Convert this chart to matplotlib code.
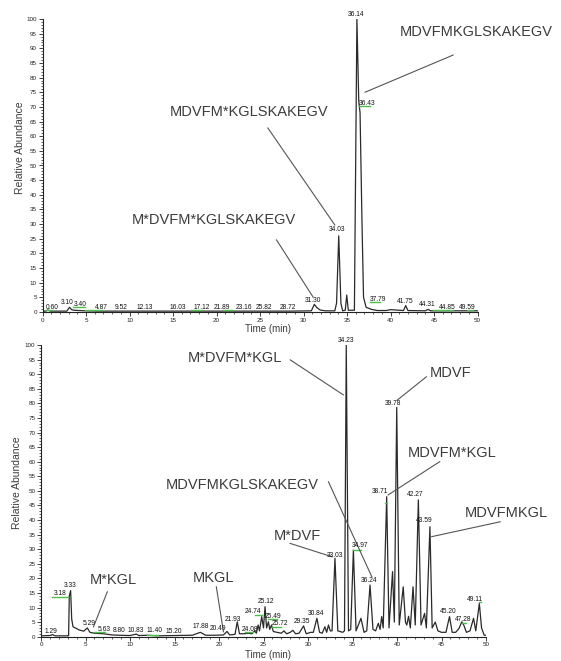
import matplotlib
matplotlib.use("Agg")
import matplotlib.pyplot as plt
from matplotlib.ticker import MultipleLocator

plt.rcParams['font.family'] = ['Liberation Sans', 'DejaVu Sans']

# ---------------- upper chromatogram ----------------
top_time = [0.0, 0.4, 0.6, 0.9, 2.8, 3.1, 3.35, 3.6, 4.2, 5.0, 6.5, 9.5, 12.1, 16.0,
            17.1, 21.9, 23.2, 25.8, 28.7, 30.9, 31.25, 31.5, 31.9, 32.5, 33.6, 33.8,
            34.05, 34.3, 34.5, 34.8, 34.97, 35.15, 35.85, 36.14, 36.35, 36.5, 36.72,
            36.9, 37.2, 37.8, 38.5, 39.5, 40.0, 41.5, 41.75, 42.0, 44.0, 44.31, 44.6,
            46.0, 50.0]
top_abund = [0.3, 0.3, 0.7, 0.3, 0.3, 1.6, 0.8, 0.6, 0.5, 0.4, 0.3, 0.3, 0.3, 0.3,
             0.3, 0.3, 0.3, 0.3, 0.3, 0.4, 2.6, 1.6, 0.7, 0.4, 0.4, 3.0,
             26.0, 3.0, 0.4, 0.6, 5.8, 0.6, 0.6, 100.0, 72.0, 68.0, 31.0,
             5.0, 1.6, 0.9, 0.5, 0.5, 0.8, 0.5, 2.2, 0.5, 0.4, 0.9, 0.4,
             0.4, 0.4]

top_rt_labels = ["0.60", "3.10", "3.40", "4.87", "9.52", "12.13", "16.03", "17.12",
                 "21.89", "23.16", "25.82", "28.72", "31.30", "34.03", "36.14",
                 "36.43", "37.79", "41.75", "44.31", "44.85", "49.59"]
top_peptides = ["MDVFMKGLSKAKEGV", "MDVFM*KGLSKAKEGV", "M*DVFM*KGLSKAKEGV"]

# ---------------- lower chromatogram ----------------
bot_time = [0.0, 1.0, 1.3, 1.6, 3.1, 3.18, 3.33, 3.45, 3.6, 4.3, 4.8, 5.2, 5.5,
            6.0, 7.0, 8.0, 8.8, 10.0, 10.7, 11.0, 12.0, 13.0, 15.0, 17.0, 17.9,
            18.5, 19.5, 20.5, 20.9, 21.2, 21.8, 22.05, 22.3, 22.8, 23.3, 23.7,
            24.0, 24.2, 24.4, 24.55, 24.8, 25.0, 25.17, 25.35, 25.55, 25.7, 25.9,
            26.1, 26.5, 27.0, 27.3, 27.6, 28.0, 28.3, 28.6, 29.0, 29.5, 29.8, 30.3,
            30.6, 31.0, 31.3, 31.6, 31.9, 32.1, 32.3, 32.5, 32.7, 33.03, 33.35,
            33.9, 34.1, 34.3, 34.55, 34.8, 35.1, 35.4, 35.95, 36.3, 36.6, 36.97,
            37.3, 37.6, 37.9, 38.1, 38.28, 38.45, 38.84, 39.1, 39.5, 39.7, 39.97,
            40.25, 40.7, 40.95, 41.1, 41.3, 41.5, 41.8, 42.05, 42.4, 42.7, 43.1,
            43.3, 43.7, 43.95, 44.3, 44.6, 45.0, 45.5, 45.9, 46.2, 46.6, 47.0,
            47.27, 47.5, 47.8, 48.2, 48.6, 48.85, 49.25, 49.5, 49.8, 50.0]
bot_abund = [0.3, 0.4, 0.7, 0.3, 0.3, 14.0, 15.8, 6.0, 3.4, 2.3, 1.9, 3.0, 1.5,
             1.2, 1.0, 0.6, 0.5, 0.4, 0.9, 0.4, 0.5, 0.3, 0.4, 0.5, 1.5,
             0.5, 0.5, 0.6, 1.8, 0.6, 0.8, 5.1, 1.0, 1.0, 1.2, 1.0,
             2.0, 1.2, 4.0, 2.0, 6.9, 3.0, 10.3, 3.0, 5.1, 2.5, 4.0,
             1.8, 1.5, 1.2, 2.0, 1.0, 1.5, 2.2, 1.0, 1.2, 3.7, 1.0, 1.5,
             1.5, 6.3, 1.5, 1.2, 3.4, 1.5, 4.0, 2.0, 2.0, 26.9, 2.0,
             1.5, 2.0, 100.0, 2.0, 2.5, 29.7, 2.0, 6.3, 1.5, 2.0, 17.7,
             2.5, 2.0, 4.6, 2.5, 6.9, 3.0, 48.0, 3.0, 22.3, 5.0, 78.6,
             4.0, 17.1, 5.0, 4.0, 7.0, 3.0, 17.1, 4.0, 46.9, 4.0, 8.0,
             3.0, 37.7, 3.0, 5.0, 2.0, 1.5, 1.5, 6.9, 1.5, 1.5, 3.0,
             5.1, 4.0, 1.5, 2.0, 6.3, 2.0, 11.4, 3.0, 0.5, 0.5]

bot_rt_labels = ["1.29", "3.18", "3.33", "5.29", "5.63", "8.80", "10.83", "11.40",
                 "15.20", "17.88", "20.49", "21.93", "24.08", "24.74", "25.12",
                 "25.49", "25.72", "29.35", "30.84", "33.03", "34.23", "34.97",
                 "36.24", "38.71", "39.78", "42.27", "43.59", "45.20", "47.28",
                 "49.11"]
bot_peptides = ["M*DVFM*KGL", "MDVF", "MDVFM*KGL", "MDVFMKGL", "MDVFMKGLSKAKEGV",
                "M*DVF", "MKGL", "M*KGL"]

# label anchors (minutes, %)
top_rt_xy = [(1.06, 1.7), (2.85, 3.4), (4.3, 2.7), (6.8, 1.7), (9.1, 1.7),
             (11.8, 1.7), (15.5, 1.7), (18.3, 1.7), (20.6, 1.7), (23.1, 1.7),
             (25.4, 1.7), (28.25, 1.7), (31.1, 3.8), (33.9, 28.0), (36.1, 101.7),
             (37.3, 71.0), (38.6, 4.1), (41.7, 3.5), (44.2, 2.4), (46.5, 1.5),
             (48.8, 1.7)]
bot_rt_xy = [(1.09, 1.7), (2.13, 14.9), (3.33, 17.4), (5.43, 4.6), (7.08, 2.5),
             (8.8, 2.1), (10.67, 2.1), (12.8, 2.0), (14.9, 1.7), (17.9, 3.4),
             (19.9, 2.9), (21.6, 6.0), (23.5, 2.5), (23.85, 8.6), (25.3, 12.0),
             (26.1, 6.9), (26.8, 4.6), (29.3, 5.1), (30.9, 8.0), (33.03, 28.0),
             (34.27, 101.5), (35.8, 31.1), (36.9, 19.2), (38.1, 49.7), (39.6, 80.0),
             (42.0, 48.9), (43.1, 39.8), (45.8, 8.6), (47.45, 6.0), (48.8, 12.9)]

# peptide text centre, leader start, leader end
top_pep_xy = [((49.9, 95.6), (47.2, 87.7), (37.07, 75.0)),
              ((23.8, 68.3), (25.9, 62.8), (33.6, 29.7)),
              ((19.65, 31.4), (26.9, 24.6), (31.1, 5.1))]
bot_pep_xy = [((21.8, 95.4), (28.0, 94.9), (33.97, 82.9)),
              ((46.07, 90.3), (43.3, 89.1), (40.03, 81.1)),
              ((46.2, 62.9), (44.8, 60.0), (39.0, 48.6)),
              ((52.3, 42.3), (51.6, 39.4), (43.9, 34.3)),
              ((22.6, 52.0), (32.3, 53.1), (37.16, 20.6)),
              ((28.8, 34.5), (27.98, 32.0), (32.7, 27.4)),
              ((19.4, 20.0), (19.7, 17.1), (20.5, 1.7)),
              ((8.1, 19.4), (7.45, 15.4), (5.9, 3.4))]

# retention-window marks (start, end, level)
top_marks = [(0.3, 1.2, 0.7), (3.5, 4.9, 1.8), (4.9, 6.8, 0.7), (17.1, 18.3, 0.7),
             (20.7, 21.9, 0.7), (36.4, 37.6, 70.3), (37.6, 38.8, 3.5),
             (44.9, 47.2, 0.7), (48.8, 49.5, 0.7)]
bot_marks = [(1.2, 3.07, 13.7), (5.9, 7.2, 1.7), (11.9, 13.2, 0.6), (22.9, 23.85, 1.7),
             (24.0, 24.8, 7.4), (25.5, 26.5, 6.0), (25.9, 27.0, 3.4),
             (35.1, 36.0, 29.7), (38.6, 38.9, 46.0), (47.3, 47.8, 4.6),
             (49.2, 49.4, 12.0)]

W, H = 561, 661
fig = plt.figure(figsize=(W / 100, H / 100), dpi=100)
ax_top = fig.add_axes([42.5 / W, 1 - 312 / H, 435 / W, 293 / H])
ax_bot = fig.add_axes([41 / W, 1 - 636.7 / H, 445 / W, 291.7 / H])

trace_col = "#2a2a2a"
text_col = "#3c3c3c"
green = "#4cbf4c"


def draw_panel(ax, t, a, rt_labels, rt_xy, peps, pep_xy, marks):
    ax.plot(t, a, color=trace_col, lw=0.9, solid_joinstyle="round")
    for x0, x1, lv in marks:
        ax.plot([x0, x1], [lv, lv], color=green, lw=1.0, clip_on=False)
    for lab, (x, y) in zip(rt_labels, rt_xy):
        ax.text(x, y, lab, fontsize=4.8, ha="center", va="center", color="#111111",
                clip_on=False)
    for pep, (txy, p0, p1) in zip(peps, pep_xy):
        ax.text(txy[0], txy[1], pep, fontsize=10.5, ha="center", va="center",
                color=text_col, clip_on=False)
        ax.plot([p0[0], p1[0]], [p0[1], p1[1]], color="#555555", lw=0.8,
                clip_on=False)

    ax.set_xlim(0, 50)
    ax.set_ylim(0, 100)
    for s in ("top", "right"):
        ax.spines[s].set_visible(False)
    for s in ("left", "bottom"):
        ax.spines[s].set_linewidth(0.8)
        ax.spines[s].set_color("#222222")
    ax.xaxis.set_major_locator(MultipleLocator(5))
    ax.xaxis.set_minor_locator(MultipleLocator(1))
    ax.yaxis.set_major_locator(MultipleLocator(5))
    ax.yaxis.set_minor_locator(MultipleLocator(1))
    ax.tick_params(which="major", length=3, width=0.6, labelsize=4.5, pad=1,
                   colors="#222222")
    ax.tick_params(which="minor", length=1.6, width=0.5, colors="#222222")


draw_panel(ax_top, top_time, top_abund, top_rt_labels, top_rt_xy,
           top_peptides, top_pep_xy, top_marks)
draw_panel(ax_bot, bot_time, bot_abund, bot_rt_labels, bot_rt_xy,
           bot_peptides, bot_pep_xy, bot_marks)

# axis titles
fig.text(20 / W, 1 - 148 / H, "Relative Abundance", rotation=90, fontsize=7.5,
         ha="center", va="center", color=text_col)
fig.text(17 / W, 1 - 483 / H, "Relative Abundance", rotation=90, fontsize=7.5,
         ha="center", va="center", color=text_col)
fig.text(268 / W, 1 - 329 / H, "Time (min)", fontsize=7, ha="center", va="center",
         color=text_col)
fig.text(268 / W, 1 - 655 / H, "Time (min)", fontsize=7, ha="center", va="center",
         color=text_col)

fig.savefig("out.png", dpi=100, facecolor="white")
